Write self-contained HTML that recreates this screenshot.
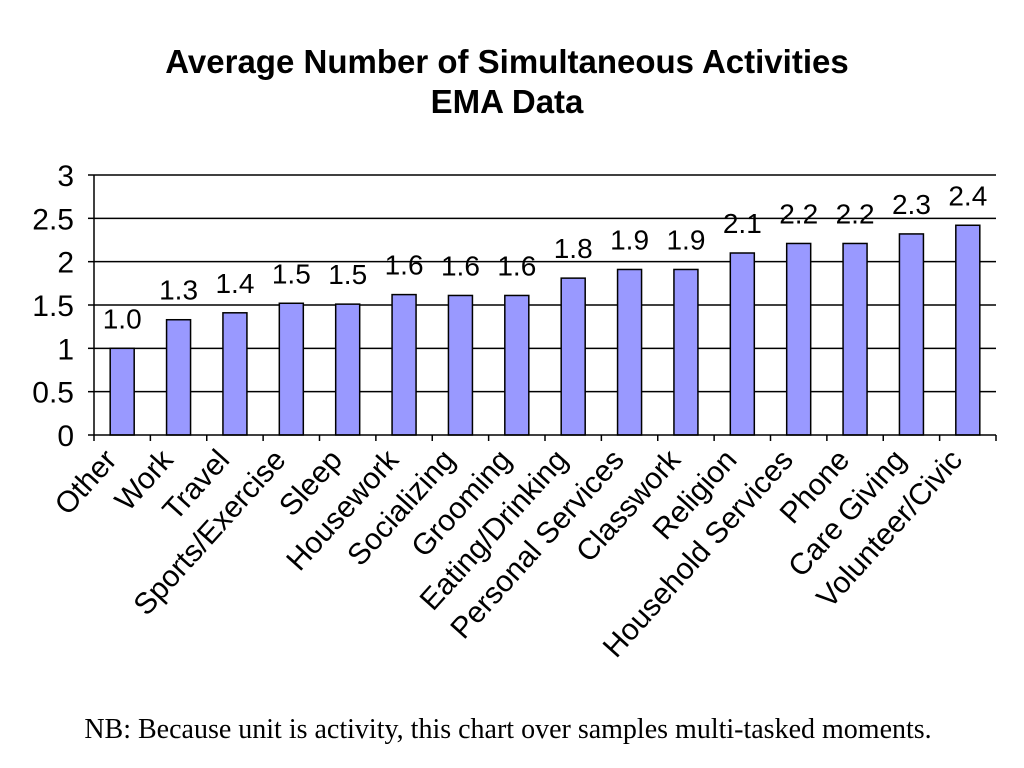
<!DOCTYPE html>
<html><head><meta charset="utf-8"><style>
body{margin:0;background:#fff;width:1024px;height:768px;overflow:hidden}
svg{display:block}
</style></head><body>
<svg id="chart" width="1024" height="768" xmlns="http://www.w3.org/2000/svg" font-family="Liberation Sans, sans-serif">
<text x="507" y="73" style="font-size:33px;font-weight:bold" text-anchor="middle">Average Number of Simultaneous Activities</text>
<text x="507" y="113" style="font-size:33px;font-weight:bold" text-anchor="middle">EMA Data</text>
<g id="grid"></g><g id="bars"></g><g id="axes"></g>
<text x="508" y="738" style="font-size:28px;font-family:'Liberation Serif',serif" text-anchor="middle">NB: Because unit is activity, this chart over samples multi-tasked moments.</text>
</svg>
<script>
const categories=["Other","Work","Travel","Sports/Exercise","Sleep","Housework","Socializing","Grooming","Eating/Drinking","Personal Services","Classwork","Religion","Household Services","Phone","Care Giving","Volunteer/Civic"];
const values=[1.0,1.33,1.41,1.52,1.51,1.62,1.61,1.61,1.81,1.91,1.91,2.1,2.21,2.21,2.32,2.42];
const valueLabels=["1.0","1.3","1.4","1.5","1.5","1.6","1.6","1.6","1.8","1.9","1.9","2.1","2.2","2.2","2.3","2.4"];
const yTicks=[0,0.5,1,1.5,2,2.5,3];
const yTickLabels=["0","0.5","1","1.5","2","2.5","3"];
const X0=94,X1=996,Y0=435,Y1=175,YMAX=3;
const NS="http://www.w3.org/2000/svg";
const step=(X1-X0)/categories.length;
const xc=i=>X0+step*(i+0.5);
const y=v=>Y0-(v/YMAX)*(Y0-Y1);
function mk(tag,attrs,parent,txt){const e=document.createElementNS(NS,tag);for(const k in attrs)e.setAttribute(k,attrs[k]);if(txt!==undefined)e.textContent=txt;document.getElementById(parent).appendChild(e);return e;}
yTicks.forEach((t,i)=>{
  if(t>0){const g=mk('line',{x1:X0,x2:X1,y1:y(t),y2:y(t),stroke:'#000','stroke-width':1.5},'grid');
  
  }
  const tk=mk('line',{x1:X0-6,x2:X0,y1:y(t),y2:y(t),stroke:'#000','stroke-width':1.5},'axes');
  
  
  const l=mk('text',{x:X0-20,y:y(t)+11,style:'font-size:30px','text-anchor':'end'},'axes',yTickLabels[i]);
  
  
});
const bw=24;
categories.forEach((c,i)=>{
  const b=mk('rect',{x:xc(i)-bw/2,y:y(values[i]),width:bw,height:Y0-y(values[i]),fill:'#9999ff',stroke:'#000','stroke-width':1.5},'bars');
  
  
  const v=mk('text',{x:xc(i),y:y(values[i])-20,style:'font-size:28px','text-anchor':'middle'},'bars',valueLabels[i]);
  
  
  const cl=mk('text',{x:0,y:0,style:'font-size:30px','text-anchor':'end',transform:`translate(${xc(i)-4},${Y0+26}) rotate(-48)`},'axes',c);
  
  
});
for(let i=0;i<=categories.length;i++){
  const t=mk('line',{x1:X0+step*i,x2:X0+step*i,y1:Y0,y2:Y0+6,stroke:'#000','stroke-width':1.5},'axes');
  
  
}
const ya=mk('line',{x1:X0,x2:X0,y1:Y1,y2:Y0,stroke:'#000','stroke-width':1.5},'axes');


const xa=mk('line',{x1:X0,x2:X1,y1:Y0,y2:Y0,stroke:'#000','stroke-width':1.5},'axes');


</script>
</body></html>
